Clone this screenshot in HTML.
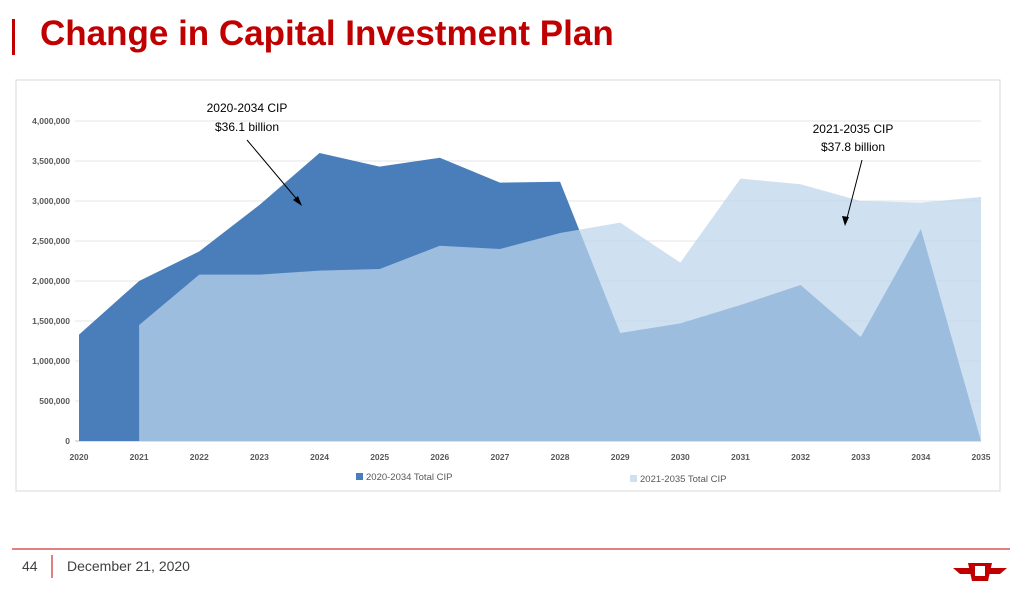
<!DOCTYPE html>
<html><head><meta charset="utf-8"><style>
body{margin:0;width:1024px;height:589px;background:#fff;font-family:"Liberation Sans",sans-serif;overflow:hidden;position:relative}
.abs{position:absolute}
</style></head><body>
<div class="abs" style="left:12px;top:19px;width:3px;height:36px;background:#c00000"></div>
<div class="abs" style="left:40px;top:14px;font-size:35px;font-weight:bold;color:#c00000">Change in Capital Investment Plan</div>
<svg class="abs" style="left:0;top:0" width="1024" height="589">
<rect x="16" y="80" width="984" height="411" fill="#fff" stroke="#d9d9d9"/>
<g id="grid"></g><g id="areas"></g><g id="labels"></g>
<g font-family="Liberation Sans, sans-serif" font-size="12" fill="#000" text-anchor="middle">
<text x="247" y="112">2020-2034 CIP</text>
<text x="247" y="131">$36.1 billion</text>
<text x="853" y="133">2021-2035 CIP</text>
<text x="853" y="151">$37.8 billion</text>
</g>
<line x1="247" y1="140" x2="300" y2="203" stroke="#000"/>
<polygon points="302,206 293,200 298,196" fill="#000"/>
<line x1="862" y1="160" x2="846" y2="222" stroke="#000"/>
<polygon points="845,226 842,216 849,217" fill="#000"/>
<rect x="356" y="473" width="7" height="7" fill="#4a7ebb"/>
<text x="366" y="480" font-size="9.5" fill="#595959">2020-2034 Total CIP</text>
<rect x="630" y="475" width="7" height="7" fill="#cfe1f1"/>
<text x="640" y="482" font-size="9.5" fill="#595959">2021-2035 Total CIP</text>
<line x1="12" y1="549" x2="1010" y2="549" stroke="#c00000"/>
<line x1="52" y1="555" x2="52" y2="578" stroke="#c00000"/>
<text x="22" y="571" font-size="14" fill="#404040">44</text>
<text x="67" y="571" font-size="14" fill="#404040">December 21, 2020</text>
<g>
<path d="M953 568 L1007 568 L1000 574 L960 574 Z" fill="#c00000"/>
<path d="M968 563 L992 563 L988 581 L972 581 Z" fill="#c00000"/>
<rect x="975" y="566" width="10" height="10" fill="#fff"/>
</g>
</svg>
<script>
const years=[2020,2021,2022,2023,2024,2025,2026,2027,2028,2029,2030,2031,2032,2033,2034,2035];
const cip2020=[1330000,2000000,2370000,2950000,3600000,3430000,3540000,3230000,3240000,1350000,1470000,1700000,1950000,1300000,2650000,0];
const cip2021=[null,1450000,2080000,2080000,2130000,2150000,2440000,2400000,2600000,2730000,2230000,3280000,3210000,3000000,2980000,3050000];
const yTicks=[0,500000,1000000,1500000,2000000,2500000,3000000,3500000,4000000];
const NS="http://www.w3.org/2000/svg";
const x=i=>79+i*(981-79)/(years.length-1);
const y=v=>441-v*(320/4000000);
function mk(tag,attrs,parent,text){const e=document.createElementNS(NS,tag);for(const k in attrs)e.setAttribute(k,attrs[k]);if(text!=null)e.textContent=text;parent.appendChild(e);return e;}
const grid=document.getElementById('grid'),areas=document.getElementById('areas'),labels=document.getElementById('labels');
yTicks.forEach(t=>{
 const l=mk('line',{x1:75,x2:981,y1:y(t),y2:y(t),stroke:t===0?'#bfbfbf':'#e6e6e6'},grid);
 
 
 const tx=mk('text',{x:70,y:y(t)+3,'text-anchor':'end','font-size':'8.5','font-weight':'bold',fill:'#595959'},labels,t.toLocaleString('en-US'));
 
 
});
years.forEach((yr,i)=>{
 const tx=mk('text',{x:x(i),y:460,'text-anchor':'middle','font-size':'8.5','font-weight':'bold',fill:'#595959'},labels,yr);
 
 
});
function areaPath(vals){let pts=[],first=null,last=null;vals.forEach((v,i)=>{if(v==null)return;if(first==null)first=i;last=i;pts.push(x(i)+','+y(v));});
 return 'M'+x(first)+','+y(0)+' L'+pts.join(' L')+' L'+x(last)+','+y(0)+' Z';}
const a1=mk('path',{d:areaPath(cip2020),fill:'#4a7ebb'},areas);


const a2=mk('path',{d:areaPath(cip2021),fill:'#bcd5ec','fill-opacity':'0.72'},areas);


</script>
</body></html>
